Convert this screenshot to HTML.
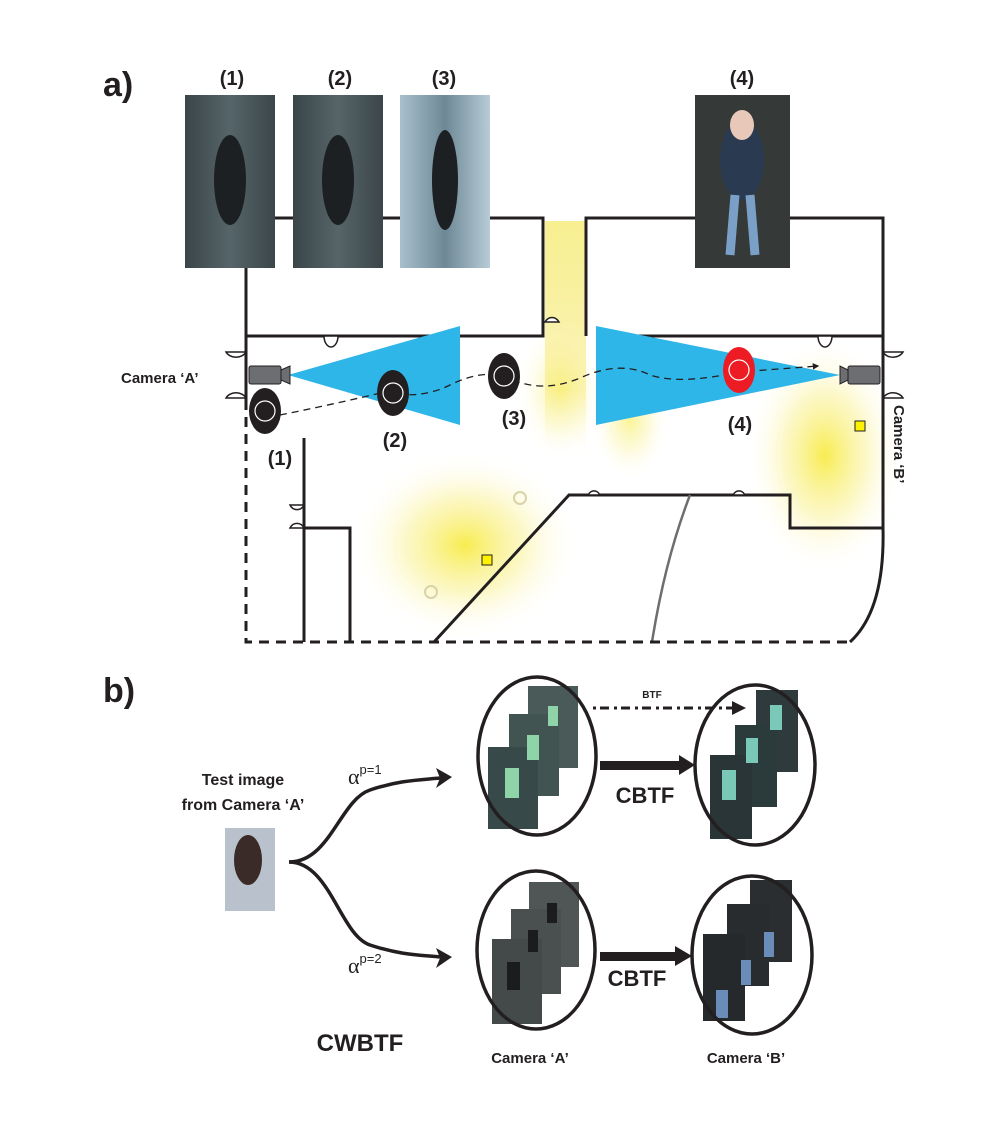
<!DOCTYPE html>
<html><head><meta charset="utf-8"><style>
html,body{margin:0;padding:0;background:#fff;}
svg{display:block;}
text{font-family:"Liberation Sans",sans-serif;font-weight:bold;fill:#231f20;}
</style></head><body>
<svg width="1007" height="1126" viewBox="0 0 1007 1126" xmlns="http://www.w3.org/2000/svg">
<defs>
<radialGradient id="yg"><stop offset="0" stop-color="#f7ea3c" stop-opacity="0.9"/><stop offset="0.5" stop-color="#f9f08a" stop-opacity="0.5"/><stop offset="1" stop-color="#fff" stop-opacity="0"/></radialGradient>
<linearGradient id="strip" x1="0" y1="0" x2="0" y2="1"><stop offset="0" stop-color="#f8ef90"/><stop offset="0.7" stop-color="#faf3b5"/><stop offset="1" stop-color="#fff" stop-opacity="0"/></linearGradient>
<linearGradient id="ph1" x1="0" y1="0" x2="1" y2="0"><stop offset="0" stop-color="#3a4548"/><stop offset="0.5" stop-color="#56656a"/><stop offset="1" stop-color="#3b4648"/></linearGradient>
<linearGradient id="ph3" x1="0" y1="0" x2="1" y2="0"><stop offset="0" stop-color="#a9c0cc"/><stop offset="0.5" stop-color="#6e8896"/><stop offset="1" stop-color="#b7ccd6"/></linearGradient>
<marker id="ah" viewBox="0 0 10 10" refX="8" refY="5" markerWidth="5" markerHeight="5" orient="auto"><path d="M0,0 L10,5 L0,10 z" fill="#231f20"/></marker>
</defs>

<text x="103" y="96" font-size="34">a)</text>
<text x="103" y="702" font-size="34">b)</text>

<!-- yellow glows -->
<rect x="545" y="221" width="41" height="240" fill="url(#strip)"/>
<ellipse cx="465" cy="545" rx="115" ry="95" fill="url(#yg)"/>
<ellipse cx="825" cy="455" rx="80" ry="120" fill="url(#yg)"/>
<ellipse cx="630" cy="420" rx="40" ry="60" fill="url(#yg)" opacity="0.6"/>
<ellipse cx="560" cy="390" rx="45" ry="70" fill="url(#yg)" opacity="0.5"/>

<!-- walls -->
<g fill="none" stroke="#231f20" stroke-width="3">
<path d="M246 400 V218 H543 V336 H246"/>
<path d="M596 336 H883 M586 336 V218 H883 V528"/>
<path d="M883 528 Q885 610 850 642"/>
<path d="M304 438 V642 M304 528 H350 V642"/>
<path d="M434 642 L569 495 H790 V528 H883"/>
</g>
<path d="M690 495 Q665 560 652 642" fill="none" stroke="#6d6e71" stroke-width="2.5"/>
<path d="M246 400 V642 H850" fill="none" stroke="#231f20" stroke-width="3" stroke-dasharray="10,7"/>
<circle cx="520" cy="498" r="6" fill="none" stroke="#d9d3a8" stroke-width="2"/>
<circle cx="431" cy="592" r="6" fill="none" stroke="#d9d3a8" stroke-width="2"/>

<!-- door arcs -->
<g fill="#fff" stroke="#231f20" stroke-width="1.5">
<path d="M545 322 a9 12 0 0 1 14 0 z"/><path d="M588 495 a8 12 0 0 1 12 0 z"/><path d="M733 495 a8 12 0 0 1 12 0 z"/>
<path d="M324 336 a7 11 0 0 0 14 0 z"/><path d="M626 336 a7 11 0 0 0 14 0 z"/><path d="M818 336 a7 11 0 0 0 14 0 z"/>
<path d="M246 352 a11 9 0 0 1 -20 0 z"/><path d="M246 398 a11 9 0 0 0 -20 0 z"/>
<path d="M883 352 a11 9 0 0 0 20 0 z"/><path d="M883 398 a11 9 0 0 1 20 0 z"/>
<path d="M304 505 a8 9 0 0 1 -14 0 z"/><path d="M304 528 a8 9 0 0 0 -14 0 z"/>
</g>

<!-- cones -->
<polygon points="288,375 460,326 460,425" fill="#2fb6e8"/>
<polygon points="596,326 596,425 840,375" fill="#2fb6e8"/>

<!-- path -->
<path d="M280 415 Q330 405 385 392 Q420 400 450 385 Q480 370 504 376 Q540 395 580 378 Q620 360 650 375 Q680 385 739 372 L818 366" fill="none" stroke="#231f20" stroke-width="1.3" stroke-dasharray="7,5" marker-end="url(#ah)"/>

<!-- cameras -->
<rect x="249" y="366" width="32" height="18" rx="2" fill="#6d6e71" stroke="#231f20"/>
<polygon points="281,370 290,366 290,384 281,380" fill="#6d6e71" stroke="#231f20"/>
<rect x="848" y="366" width="32" height="18" rx="2" fill="#6d6e71" stroke="#231f20"/>
<polygon points="848,370 840,366 840,384 848,380" fill="#6d6e71" stroke="#231f20"/>

<!-- persons -->
<g stroke="#fff" stroke-width="1.2">
<ellipse cx="265" cy="411" rx="16" ry="23" fill="#231f20" stroke="none"/><circle cx="265" cy="411" r="10" fill="#231f20"/>
<ellipse cx="393" cy="393" rx="16" ry="23" fill="#231f20" stroke="none"/><circle cx="393" cy="393" r="10" fill="#231f20"/>
<ellipse cx="504" cy="376" rx="16" ry="23" fill="#231f20" stroke="none"/><circle cx="504" cy="376" r="10" fill="#231f20"/>
<ellipse cx="739" cy="370" rx="16" ry="23" fill="#ed1c24" stroke="none"/><circle cx="739" cy="370" r="10" fill="#ed1c24"/>
</g>
<text x="280" y="465" font-size="20" text-anchor="middle">(1)</text>
<text x="395" y="447" font-size="20" text-anchor="middle">(2)</text>
<text x="514" y="425" font-size="20" text-anchor="middle">(3)</text>
<text x="740" y="431" font-size="20" text-anchor="middle">(4)</text>
<text x="121" y="383" font-size="15">Camera ‘A’</text>
<text x="0" y="0" font-size="15" transform="translate(894,405) rotate(90)">Camera ‘B’</text>
<rect x="482" y="555" width="10" height="10" fill="#fff200" stroke="#231f20"/>
<rect x="855" y="421" width="10" height="10" fill="#fff200" stroke="#231f20"/>

<!-- top photos -->
<text x="232" y="85" font-size="20" text-anchor="middle">(1)</text>
<text x="340" y="85" font-size="20" text-anchor="middle">(2)</text>
<text x="444" y="85" font-size="20" text-anchor="middle">(3)</text>
<text x="742" y="85" font-size="20" text-anchor="middle">(4)</text>
<rect x="185" y="95" width="90" height="173" fill="url(#ph1)"/>
<rect x="293" y="95" width="90" height="173" fill="url(#ph1)"/>
<rect x="400" y="95" width="90" height="173" fill="url(#ph3)"/>
<rect x="695" y="95" width="95" height="173" fill="#353938"/>
<g fill="#1c2022">
<ellipse cx="230" cy="180" rx="16" ry="45"/><ellipse cx="338" cy="180" rx="16" ry="45"/><ellipse cx="445" cy="180" rx="13" ry="50"/>
</g>
<ellipse cx="742" cy="160" rx="22" ry="40" fill="#2a3a50"/><ellipse cx="742" cy="125" rx="12" ry="15" fill="#e8c8b8"/>
<path d="M735 195 L730 255 M750 195 L755 255" stroke="#7aa0c8" stroke-width="9"/>

<!-- part b -->
<text x="243" y="785" font-size="16" text-anchor="middle">Test image</text>
<text x="243" y="810" font-size="16" text-anchor="middle">from Camera ‘A’</text>
<rect x="225" y="828" width="50" height="83" fill="#b9c2cc"/>
<ellipse cx="248" cy="860" rx="14" ry="25" fill="#3a2a28"/>
<path d="M289 862 C330 862 340 800 370 790 C400 780 420 780 440 778" fill="none" stroke="#231f20" stroke-width="3.5"/>
<path d="M289 862 C330 862 340 935 370 945 C400 955 420 955 440 957" fill="none" stroke="#231f20" stroke-width="3.5"/>
<polygon points="452,777 436,768 440,778 436,788" fill="#231f20"/>
<polygon points="452,957 436,948 440,958 436,968" fill="#231f20"/>
<text x="348" y="784" font-size="22" style="font-weight:normal;font-family:'Liberation Serif',serif">α<tspan font-size="13" style="font-family:'Liberation Sans',sans-serif" dy="-10">p=1</tspan></text>
<text x="348" y="973" font-size="22" style="font-weight:normal;font-family:'Liberation Serif',serif">α<tspan font-size="13" style="font-family:'Liberation Sans',sans-serif" dy="-10">p=2</tspan></text>

<!-- stacks -->
<g>
<rect x="528" y="686" width="50" height="82" fill="#4a5a58"/><rect x="509" y="714" width="50" height="82" fill="#415452"/><rect x="488" y="747" width="50" height="82" fill="#38494a"/>
<rect x="756" y="690" width="42" height="82" fill="#2e3a3c"/><rect x="735" y="725" width="42" height="82" fill="#2b3a3b"/><rect x="710" y="755" width="42" height="84" fill="#293536"/>
<rect x="529" y="882" width="50" height="85" fill="#505656"/><rect x="511" y="909" width="50" height="85" fill="#4a5050"/><rect x="492" y="939" width="50" height="85" fill="#444a4a"/>
<rect x="750" y="880" width="42" height="82" fill="#2a2e30"/><rect x="727" y="904" width="42" height="82" fill="#282c2e"/><rect x="703" y="934" width="42" height="87" fill="#25292b"/>
</g>
<g fill="#8fd4a8"><rect x="505" y="768" width="14" height="30"/><rect x="527" y="735" width="12" height="25"/><rect x="548" y="706" width="10" height="20"/></g>
<g fill="#7ac8b8"><rect x="722" y="770" width="14" height="30"/><rect x="746" y="738" width="12" height="25"/><rect x="770" y="705" width="12" height="25"/></g>
<g fill="#1a1c1e"><rect x="507" y="962" width="13" height="28"/><rect x="528" y="930" width="10" height="22"/><rect x="547" y="903" width="10" height="20"/></g>
<g fill="#6a8cb8"><rect x="716" y="990" width="12" height="28"/><rect x="741" y="960" width="10" height="25"/><rect x="764" y="932" width="10" height="25"/></g>

<g fill="none" stroke="#231f20" stroke-width="3.5">
<ellipse cx="537" cy="756" rx="59" ry="79"/>
<ellipse cx="755" cy="765" rx="60" ry="80"/>
<ellipse cx="536" cy="950" rx="59" ry="79"/>
<ellipse cx="752" cy="955" rx="60" ry="79"/>
</g>
<rect x="600" y="761" width="80" height="9" fill="#231f20"/><polygon points="695,765 679,755 679,775" fill="#231f20"/>
<rect x="600" y="952" width="76" height="9" fill="#231f20"/><polygon points="692,956 675,946 675,966" fill="#231f20"/>
<path d="M593 708 H735" stroke="#231f20" stroke-width="3" stroke-dasharray="3,4,9,5"/>
<polygon points="746,708 732,701 732,715" fill="#231f20"/>
<text x="652" y="698" font-size="10" text-anchor="middle">BTF</text>
<text x="645" y="803" font-size="22" text-anchor="middle">CBTF</text>
<text x="637" y="986" font-size="22" text-anchor="middle">CBTF</text>
<text x="360" y="1051" font-size="24" text-anchor="middle">CWBTF</text>
<text x="530" y="1063" font-size="15" text-anchor="middle">Camera ‘A’</text>
<text x="746" y="1063" font-size="15" text-anchor="middle">Camera ‘B’</text>
</svg>
</body></html>
